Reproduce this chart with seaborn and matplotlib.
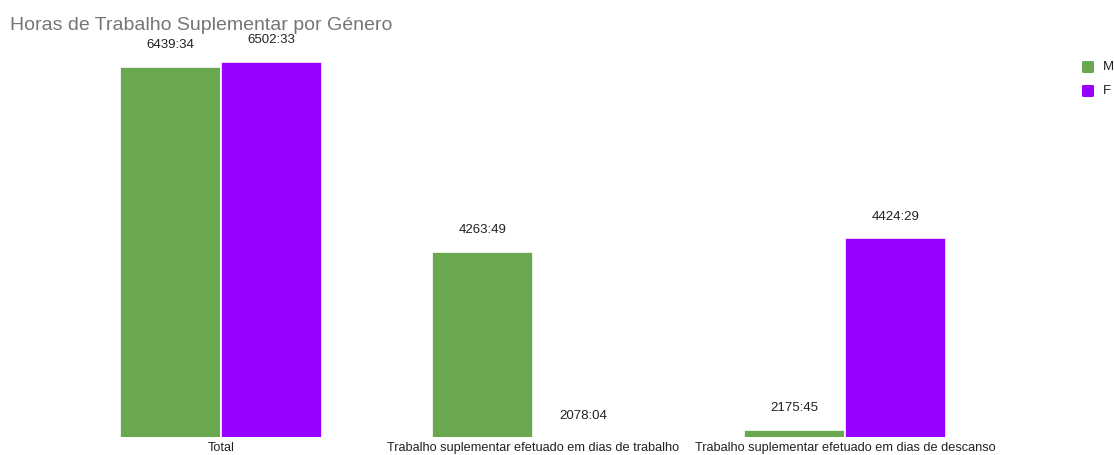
import matplotlib
matplotlib.use("Agg")
import matplotlib.pyplot as plt
import seaborn as sns
import pandas as pd
from matplotlib.patches import FancyBboxPatch

categories = ["Total",
              "Trabalho suplementar efetuado em dias de trabalho",
              "Trabalho suplementar efetuado em dias de descanso"]
genders = ["M", "F"]
m_labels = ["6439:34", "4263:49", "2175:45"]
f_labels = ["6502:33", "2078:04", "4424:29"]
colors = {"M": "#6aa84f", "F": "#9900ff"}
title = "Horas de Trabalho Suplementar por Género"


def to_hours(s):
    h, m = s.split(":")
    return int(h) + int(m) / 60.0


rows = []
for c, ml, fl in zip(categories, m_labels, f_labels):
    rows.append({"cat": c, "g": "M", "v": to_hours(ml), "lab": ml})
    rows.append({"cat": c, "g": "F", "v": to_hours(fl), "lab": fl})
df = pd.DataFrame(rows)

sns.set_theme(style="white")
plt.rcParams['font.family'] = ['Liberation Sans', 'DejaVu Sans']

fig = plt.figure(figsize=(11.14, 4.55), dpi=100)
ax = fig.add_axes([65 / 1114, (455 - 437) / 455, 936 / 1114, 407 / 455])

sns.barplot(data=df, x="cat", y="v", hue="g", hue_order=genders,
            palette=colors, width=0.645, ax=ax, edgecolor="white",
            linewidth=1.2, legend=False, saturation=1)

ax.set_ylim(2088, 6874)
ax.set_xlim(-0.5, 2.5)

for container, g in zip(ax.containers, genders):
    sub = df[df.g == g]
    for bar, (_, r) in zip(container, sub.iterrows()):
        x = bar.get_x() + bar.get_width() / 2
        ax.annotate(r.lab, xy=(x, r.v), xytext=(0, 15.5),
                    textcoords="offset points", ha="center", va="center",
                    fontsize=9.5, color="#222222", annotation_clip=False)

for s in ax.spines.values():
    s.set_visible(False)
ax.set_yticks([])
ax.set_xlabel("")
ax.set_ylabel("")
ax.tick_params(axis="x", length=0, pad=3.5, labelsize=9.2, labelcolor="#222222")

fig.text(10 / 1114, 1 - 25 / 455, title, fontsize=14, color="#757575",
         ha="left", va="center")

for i, g in enumerate(genders):
    yy = 1 - (67 + 24 * i) / 455
    fig.patches.append(FancyBboxPatch((1082 / 1114, yy - 6 / 455), 12 / 1114, 12 / 455,
                                      boxstyle="round,pad=0,rounding_size=0.002",
                                      transform=fig.transFigure, facecolor=colors[g],
                                      edgecolor="none"))
    fig.text(1103 / 1114, yy, g, fontsize=9.5, color="#222222", ha="left", va="center")

fig.savefig("out.png", dpi=100)
